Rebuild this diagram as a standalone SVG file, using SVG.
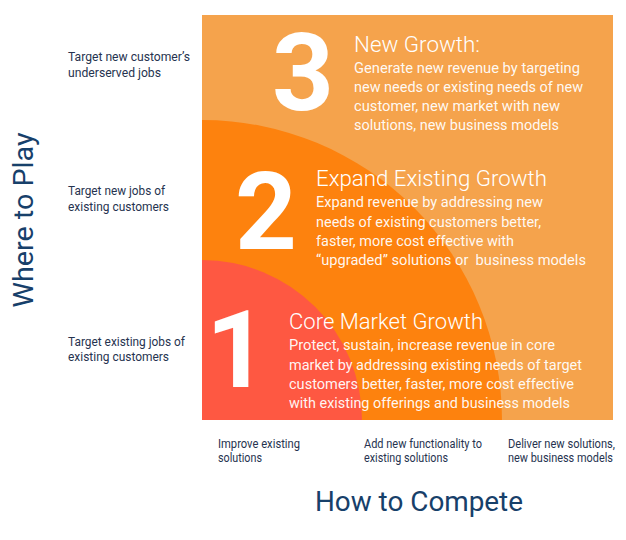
<svg xmlns="http://www.w3.org/2000/svg" width="626" height="540" viewBox="0 0 626 540">
<style>
.num{font-family:Roboto,"Liberation Sans",sans-serif;font-weight:700;fill:#fff;font-size:108px}
.ttl{font-family:Roboto,"Liberation Sans",sans-serif;font-weight:300;fill:#fff;font-size:22px}
.body{font-family:Roboto,"Liberation Sans",sans-serif;font-weight:400;fill:#fff;font-size:14.5px;fill-opacity:0.95}
.lbl{font-family:Roboto,"Liberation Sans",sans-serif;font-weight:400;fill:#26334f;font-size:12px}
.axis{font-family:Roboto,"Liberation Sans",sans-serif;font-weight:400;fill:#17406a;font-size:27px}
</style>
<rect width="626" height="540" fill="#fff"/>
<g id="zone-3">
<rect x="202" y="15" width="411" height="405" fill="#F5A34C"/>
<text class="num" x="272" y="110">3</text>
<text class="ttl" x="354" y="52" textLength="126" lengthAdjust="spacingAndGlyphs">New Growth:</text>
<text class="body" x="354" y="73" textLength="226" lengthAdjust="spacingAndGlyphs">Generate new revenue by targeting</text>
<text class="body" x="354" y="92" textLength="229" lengthAdjust="spacingAndGlyphs">new needs or existing needs of new</text>
<text class="body" x="354" y="111" textLength="206" lengthAdjust="spacingAndGlyphs">customer, new market with new</text>
<text class="body" x="354" y="130" textLength="205" lengthAdjust="spacingAndGlyphs">solutions, new business models</text>
</g>
<g id="zone-2">
<path d="M202,120 A300,300 0 0 1 502,420 L202,420 Z" fill="#FD820E"/>
<text class="num" x="235" y="249">2</text>
<text class="ttl" x="316" y="186" textLength="231" lengthAdjust="spacingAndGlyphs">Expand Existing Growth</text>
<text class="body" x="316" y="207" textLength="227" lengthAdjust="spacingAndGlyphs">Expand revenue by addressing new</text>
<text class="body" x="316" y="226.5" textLength="225" lengthAdjust="spacingAndGlyphs">needs of existing customers better,</text>
<text class="body" x="316" y="246" textLength="198" lengthAdjust="spacingAndGlyphs">faster, more cost effective with</text>
<text class="body" x="316" y="265" textLength="270" lengthAdjust="spacingAndGlyphs" xml:space="preserve">“upgraded” solutions or  business models</text>
</g>
<g id="zone-1">
<path d="M202,260 A160,160 0 0 1 362,420 L202,420 Z" fill="#FE5842"/>
<text class="num" x="206" y="387">1</text>
<text class="ttl" x="289" y="329" textLength="194" lengthAdjust="spacingAndGlyphs">Core Market Growth</text>
<text class="body" x="289" y="350" textLength="266" lengthAdjust="spacingAndGlyphs">Protect, sustain, increase revenue in core</text>
<text class="body" x="289" y="369.5" textLength="293" lengthAdjust="spacingAndGlyphs">market by addressing existing needs of target</text>
<text class="body" x="289" y="389" textLength="285" lengthAdjust="spacingAndGlyphs">customers better, faster, more cost effective</text>
<text class="body" x="289" y="408" textLength="281" lengthAdjust="spacingAndGlyphs">with existing offerings and business models</text>
</g>
<g id="y-labels">
<text class="lbl" x="68" y="61" textLength="122" lengthAdjust="spacingAndGlyphs">Target new customer’s</text>
<text class="lbl" x="68" y="77" textLength="93" lengthAdjust="spacingAndGlyphs">underserved jobs</text>
<text class="lbl" x="68" y="195" textLength="97" lengthAdjust="spacingAndGlyphs">Target new jobs of</text>
<text class="lbl" x="68" y="211" textLength="101" lengthAdjust="spacingAndGlyphs">existing customers</text>
<text class="lbl" x="68" y="346" textLength="117" lengthAdjust="spacingAndGlyphs">Target existing jobs of</text>
<text class="lbl" x="68" y="361" textLength="101" lengthAdjust="spacingAndGlyphs">existing customers</text>
<text class="axis" transform="translate(33,220) rotate(-90)" text-anchor="middle" textLength="175" lengthAdjust="spacingAndGlyphs">Where to Play</text>
</g>
<g id="x-labels">
<text class="lbl" x="218" y="448" textLength="82" lengthAdjust="spacingAndGlyphs">Improve existing</text>
<text class="lbl" x="218" y="462" textLength="44" lengthAdjust="spacingAndGlyphs">solutions</text>
<text class="lbl" x="364" y="448" textLength="118" lengthAdjust="spacingAndGlyphs">Add new functionality to</text>
<text class="lbl" x="364" y="462" textLength="84" lengthAdjust="spacingAndGlyphs">existing solutions</text>
<text class="lbl" x="508" y="448" textLength="107" lengthAdjust="spacingAndGlyphs">Deliver new solutions,</text>
<text class="lbl" x="508" y="462" textLength="105" lengthAdjust="spacingAndGlyphs">new business models</text>
<text class="axis" x="419" y="511" text-anchor="middle" textLength="208" lengthAdjust="spacingAndGlyphs">How to Compete</text>
</g>
<g id="connectors"/>
</svg>
